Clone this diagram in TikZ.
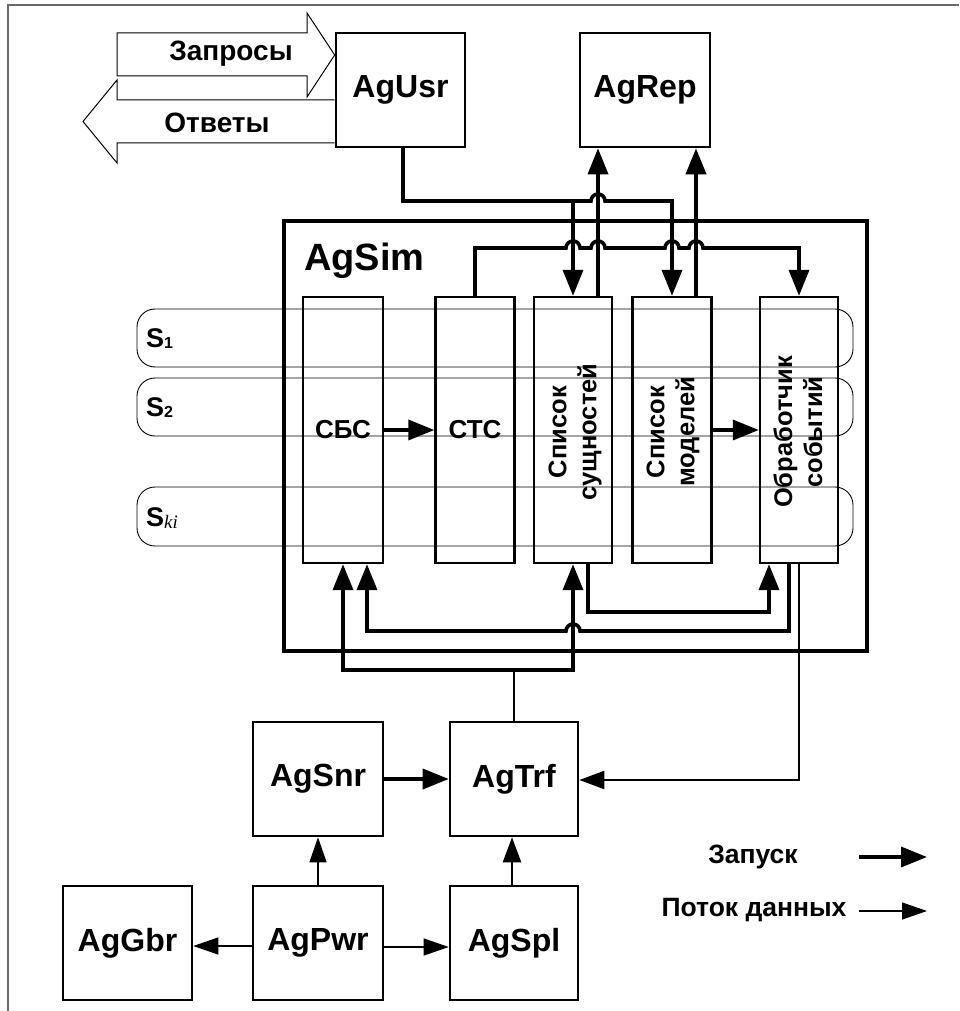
\documentclass[tikz,border=0pt]{standalone}
\usepackage{fontspec}
\setmainfont{Liberation Sans}
\newfontfamily\serifit{Liberation Serif}
\usetikzlibrary{arrows.meta}
\definecolor{framegray}{RGB}{105,105,105}
\newcommand\hopR[2]{-- (#1-7,#2) arc[start angle=180,end angle=0,radius=7pt]}
\newcommand\hopL[2]{-- (#1+7,#2) arc[start angle=0,end angle=180,radius=7pt]}
\tikzset{
  agbox/.style={draw, line width=2.6pt, minimum width=129pt, minimum height=114pt, inner sep=0pt,
    font=\fontsize{32}{36}\selectfont\bfseries},
  colbox/.style={draw, line width=2.4pt, minimum width=79pt, minimum height=266pt, inner sep=0pt},
  simbox/.style={draw, line width=3.8pt, minimum width=583pt, minimum height=430pt, inner sep=0pt},
  band/.style={draw, line width=0.9pt, rounded corners=18pt},
  bigarrow/.style={draw, line width=1pt, line join=miter},
  launchline/.style={line width=3.6pt},
  launch/.style={line width=3.6pt, -{Triangle[length=26pt,width=20pt]}},
  midline/.style={line width=2.2pt},
  midarrow/.style={line width=2.2pt, -{Triangle[length=25pt,width=18pt]}},
  data/.style={line width=1.3pt, -{Triangle[length=25pt,width=17pt]}},
  lbl/.style={font=\fontsize{26}{30}\selectfont\bfseries, align=center, inner sep=0pt},
  vlbl/.style={font=\fontsize{25.5}{30}\selectfont\bfseries, align=center, inner sep=0pt, rotate=90},
  slbl/.style={font=\fontsize{27}{30}\selectfont\bfseries, anchor=base west, inner sep=0pt},
  biglbl/.style={font=\fontsize{28}{32}\selectfont\bfseries, inner sep=0pt},
  leglbl/.style={font=\fontsize{26.5}{30}\selectfont\bfseries, inner sep=0pt},
}
\begin{document}
\begin{tikzpicture}[x=1pt,y=-1pt]
\useasboundingbox (0,0) rectangle (959,1011);
% outer frame
\draw[framegray, line width=1.6pt] (959,5) -- (8,5) -- (8,1011);

% top agents
\node[agbox] (usr) at (400.5,90) {AgUsr};
\node[agbox, minimum width=130pt] (rep) at (645,90) {AgRep};

% request / answer arrows
\draw[bigarrow] (117,33) -- (307,33) -- (307,13) -- (usr.west |- 0,55) -- (307,97) -- (307,76) -- (117,76) -- cycle;
\node[biglbl] (req) at (231,54) {Запросы};
\draw[bigarrow] (usr.west |- 0,100) -- (117,100) -- (117,80) -- (83,121.5) -- (117,163) -- (117,143) -- (usr.west |- 0,143);
\node[biglbl] (ans) at (217,123) {Ответы};

% AgSim
\node[simbox] (sim) at (575.5,436) {};
\node[font=\fontsize{38}{42}\selectfont\bfseries, anchor=base west, inner sep=0pt] (simlbl) at (304,270) {AgSim};

% columns
\node[colbox, minimum width=80pt] (sbs) at (343,430) {};
\node[colbox] (stc) at (475,430) {};
\node[colbox, minimum width=78pt] (ent) at (573,430) {};
\node[colbox] (mod) at (672,430) {};
\node[colbox, minimum width=78pt] (evt) at (799,430) {};

% bands
\draw[band] (137,309) rectangle (853,367);
\draw[band] (137,378) rectangle (853,436);
\draw[band] (137,487) rectangle (853,546);
\node[slbl] (s1) at (146,347) {S\raisebox{-1pt}{\fontsize{16}{16}\selectfont 1}};
\node[slbl] (s2) at (146,416) {S\raisebox{-1pt}{\fontsize{16}{16}\selectfont 2}};
\node[slbl] (sk) at (146,526) {S\raisebox{-2pt}{\fontsize{19}{19}\serifit\itshape\mdseries ki}};

% column labels
\node[lbl] (sbsl) at (sbs.center) {СБС};
\node[lbl] (stcl) at (stc.center) {СТС};
\node[vlbl] (entl) at (575,432) {Список\\сущностей};
\node[vlbl] (modl) at (673,432) {Список\\моделей};
\node[vlbl] (evtl) at (798,432) {Обработчик\\событий};

% top connectors
\coordinate (j1) at (573,201);
\draw[launch] ([xshift=2.5pt]usr.south) |- (j1) -- (ent.north);
\draw[launch] (j1) \hopR{598}{201} -- (672,201) -- (mod.north);
\draw[launch] ([xshift=25pt]ent.north) -- ([xshift=-47pt]rep.south);
\draw[launch] ([xshift=24pt]mod.north) -- ([xshift=51pt]rep.south);
\draw[launch] (stc.north) -- (475,248) \hopR{573}{248} \hopR{598}{248} \hopR{672}{248} \hopR{696}{248} -- (799,248) -- (evt.north);

% horizontal connectors inside
\draw[launch] (sbs.east) -- (stc.west);
\draw[launch] (mod.east) -- (evt.west);

% bottom connectors
\draw[launch] ([xshift=15pt]ent.south) -- (588,612) -- (769,612) -- ([xshift=-30pt]evt.south);
\draw[launch] ([xshift=-10pt]evt.south) -- (789,631) \hopL{573}{631} -- (367,631) -- ([xshift=24pt]sbs.south);

% lower agents
\node[agbox, minimum width=130pt] (snr) at (318,779) {AgSnr};
\node[agbox, minimum width=128pt] (trf) at (514,779) {AgTrf};
\node[agbox] (gbr) at (127.5,943) {AgGbr};
\node[agbox, minimum width=130pt] (pwr) at (318,943) {AgPwr};
\node[agbox, minimum width=128pt] (spl) at (514,943) {AgSpl};

\draw[midarrow] (evt.south) -- (799,780) -- (trf.east |- 0,780);
\coordinate (t1) at (514,670);
\draw[midline] (trf.north) -- (t1);
\draw[launch] (t1) -- (343,670) -- (sbs.south);
\draw[launch] (t1) -- (573,670) -- (ent.south);

\draw[launch] (snr.east) -- (trf.west);
\draw[midarrow] ([xshift=-2pt]spl.north) -- ([xshift=-2pt]trf.south);
\draw[data] (pwr.north) -- (snr.south);
\draw[data] (pwr.west |- 0,946) -- (gbr.east |- 0,946);
\draw[data] (pwr.east |- 0,947) -- (spl.west |- 0,947);

% legend
\node[leglbl] (leg1) at (753,857) {Запуск};
\node[leglbl] (leg2) at (754,910) {Поток данных};
\coordinate (l1a) at (859,857);
\coordinate (l1b) at (927,857);
\coordinate (l2a) at (859,911);
\coordinate (l2b) at (927,911);
\draw[launch] (l1a) -- (l1b);
\draw[data] (l2a) -- (l2b);
\end{tikzpicture}
\end{document}
